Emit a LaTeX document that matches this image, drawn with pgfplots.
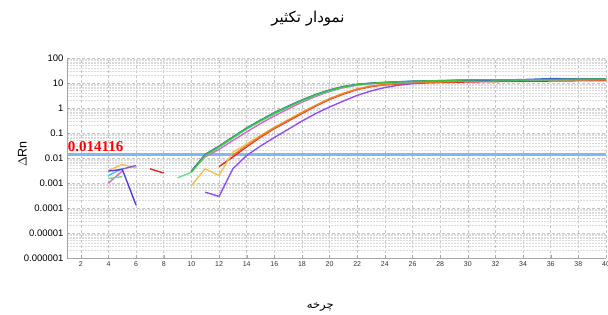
\documentclass[border=0pt]{standalone}
\usepackage{pgfplots}
\pgfplotsset{compat=1.18}
\usepackage{fontspec}
\setmainfont{Liberation Sans}
\newfontfamily\arabicfont[Script=Arabic]{DejaVu Sans}
\newfontfamily\thrfont{Liberation Serif}
\TeXXeTstate=1
\definecolor{cblue}{HTML}{3A5FD8}
\definecolor{cgreen}{HTML}{3CC03C}
\definecolor{clgreen}{HTML}{66E08A}
\definecolor{cpink}{HTML}{E060D0}
\definecolor{ccyan}{HTML}{40C8E8}
\definecolor{cred}{HTML}{E02828}
\definecolor{corange}{HTML}{F07828}
\definecolor{cyellow}{HTML}{F0C050}
\definecolor{cpurple}{HTML}{9050F0}
\definecolor{cviolet}{HTML}{5A3AE0}
\definecolor{cthr}{HTML}{80B8F0}
\begin{document}
\begin{tikzpicture}
\begin{axis}[
  at={(67pt,57pt)}, anchor=south west,
  scale only axis, width=539pt, height=200pt,
  ymode=log, xmin=1, xmax=40, ymin=1e-6, ymax=100,
  xtick={2,4,...,40},
  ytick={1e-6,1e-5,1e-4,1e-3,1e-2,1e-1,1,10,100},
  yticklabels={0.000001,0.00001,0.0001,0.001,0.01,0.1,1,10,100},
  minor ytick={2e-6,3e-6,4e-6,5e-6,6e-6,7e-6,8e-6,9e-6,
               2e-5,3e-5,4e-5,5e-5,6e-5,7e-5,8e-5,9e-5,
               2e-4,3e-4,4e-4,5e-4,6e-4,7e-4,8e-4,9e-4,
               2e-3,3e-3,4e-3,5e-3,6e-3,7e-3,8e-3,9e-3,
               2e-2,3e-2,4e-2,5e-2,6e-2,7e-2,8e-2,9e-2,
               0.2,0.3,0.4,0.5,0.6,0.7,0.8,0.9,
               2,3,4,5,6,7,8,9,
               20,30,40,50,60,70,80,90},
  grid=both,
  major grid style={gray!45, dash pattern=on 3pt off 2pt, line width=0.5pt},
  minor grid style={gray!28, dash pattern=on 2pt off 1pt, line width=0.5pt},
  axis line style={gray!70},
  axis x line*=bottom, axis y line*=left,
  tick style={gray!70},
  major tick length=3pt,
  minor tick length=0pt,
  xtick pos=bottom, ytick pos=left,
  /pgf/number format/assume math mode=true,
  xticklabel style={font=\fontsize{7}{8}\selectfont, text=black!80},
  yticklabel style={font=\fontsize{9.5}{10}\selectfont},
  ylabel={$\Delta$Rn},
  ylabel style={font=\fontsize{12.5}{13}\selectfont, at={(-0.083,0.52)}, anchor=center},
  xlabel={\arabicfont\beginR چرخه\endR},
  xlabel style={font=\fontsize{11.5}{12}\selectfont, at={(0.47,-0.245)}, anchor=center},
  title={\arabicfont\beginR نمودار تکثیر\endR},
  title style={font=\fontsize{15}{16}\selectfont, at={(0.447,1.165)}, anchor=center},
  every axis plot/.append style={line width=1.4pt, mark=none},
  clip=true,
]
% threshold
\addplot[cthr, line width=3.4pt] coordinates {(1,0.014116) (40,0.014116)};
% early fragments
\addplot[cpink] coordinates {(4,0.001) (5,0.003)};
\addplot[clgreen] coordinates {(4,0.0015) (5,0.0018)};
\addplot[ccyan] coordinates {(4,0.002) (5,0.0038)};
\addplot[cyellow] coordinates {(4,0.0032) (5,0.0055) (6,0.0040)};
\addplot[cviolet] coordinates {(4,0.0030) (5,0.0035) (6,0.00013)};
\addplot[cpurple] coordinates {(5,0.0036) (6,0.0050)};
\addplot[cred] coordinates {(7,0.0037) (8,0.0025)};
% late starters
\addplot[cpurple] coordinates {(11,0.00043) (12,0.00029) (13,0.0037) (14,0.0126) (15,0.030) (16,0.066) (17,0.14) (18,0.30) (19,0.60) (20,1.1) (21,1.9) (22,3.2) (23,4.8) (24,6.6) (25,8.2) (26,9.4) (27,10.3) (28,11.0) (29,11.6) (30,12.0) (31,12.3) (32,12.7) (33,12.9) (34,13.2) (35,13.4) (36,13.6) (37,13.7) (38,13.8) (39,13.9) (40,14.0)};
\addplot[cred] coordinates {(12,0.0045) (13,0.011) (14,0.028) (15,0.068) (16,0.15) (17,0.30) (18,0.60) (19,1.2) (20,2.2) (21,3.6) (22,5.5) (23,7.2) (24,8.4) (25,9.2) (26,9.8) (27,10.2) (28,10.5) (29,10.7) (30,11.0) (31,11.2) (32,11.4) (33,11.5) (34,11.7) (35,11.8) (36,12.0) (37,12.1) (38,12.3) (39,12.4) (40,12.5)};
\addplot[cyellow] coordinates {(10,0.0008) (11,0.0037) (12,0.0020) (13,0.017) (14,0.036) (15,0.080) (16,0.17) (17,0.34) (18,0.68) (19,1.3) (20,2.4) (21,3.9) (22,5.8) (23,7.6) (24,8.8) (25,9.8) (26,10.5) (27,11.0) (28,11.4) (29,11.7) (30,12.0) (31,12.3) (32,12.5) (33,12.8) (34,13.0) (35,13.2) (36,13.3) (37,13.5) (38,13.6) (39,13.8) (40,13.9)};
\addplot[corange] coordinates {(13,0.013) (14,0.031) (15,0.073) (16,0.16) (17,0.32) (18,0.64) (19,1.25) (20,2.3) (21,3.8) (22,5.7) (23,7.5) (24,8.7) (25,9.6) (26,10.2) (27,10.7) (28,11.1) (29,11.4) (30,11.7) (31,12.0) (32,12.2) (33,12.4) (34,12.6) (35,12.8) (36,12.9) (37,13.0) (38,13.2) (39,13.3) (40,13.4)};
% fast group
\addplot[cpink] coordinates {(10,0.0030) (11,0.011) (12,0.022) (13,0.050) (14,0.11) (15,0.24) (16,0.48) (17,0.92) (18,1.7) (19,2.9) (20,4.6) (21,6.5) (22,8.2) (23,9.4) (24,10.2) (25,10.9) (26,11.4) (27,11.8) (28,12.1) (29,12.4) (30,12.6) (31,12.8) (32,13.0) (33,13.2) (34,13.3) (35,13.5) (36,13.6) (37,13.8) (38,13.9) (39,14.0) (40,14.1)};
\addplot[ccyan] coordinates {(10,0.0029) (11,0.0125) (12,0.027) (13,0.064) (14,0.145) (15,0.30) (16,0.59) (17,1.1) (18,1.95) (19,3.2) (20,4.9) (21,6.9) (22,8.5) (23,9.6) (24,10.4) (25,11.0) (26,11.5) (27,11.9) (28,12.2) (29,12.5) (30,12.8) (31,13.0) (32,13.1) (33,13.2) (34,13.4) (35,13.6) (36,13.8) (37,13.9) (38,14.0) (39,14.1) (40,14.2)};
\addplot[clgreen] coordinates {(9,0.0016) (10,0.0027) (11,0.012) (12,0.027) (13,0.063) (14,0.145) (15,0.30) (16,0.58) (17,1.08) (18,1.95) (19,3.2) (20,4.9) (21,6.9) (22,8.5) (23,9.6) (24,10.3) (25,10.9) (26,11.4) (27,11.8) (28,12.2) (29,12.6) (30,12.9) (31,13.1) (32,13.2) (33,13.3) (34,13.4) (35,13.5) (36,13.6) (37,13.7) (38,13.9) (39,14.0) (40,14.2)};
\addplot[cblue] coordinates {(10,0.0030) (11,0.014) (12,0.030) (13,0.070) (14,0.16) (15,0.33) (16,0.65) (17,1.2) (18,2.1) (19,3.5) (20,5.3) (21,7.3) (22,8.9) (23,9.9) (24,10.6) (25,11.2) (26,11.8) (27,12.2) (28,12.4) (29,12.7) (30,12.9) (31,13.0) (32,13.2) (33,13.4) (34,13.7) (35,14.3) (36,15.0) (37,14.8) (38,14.5) (39,14.6) (40,14.8)};
\addplot[cgreen] coordinates {(10,0.0028) (11,0.013) (12,0.029) (13,0.068) (14,0.155) (15,0.32) (16,0.62) (17,1.15) (18,2.05) (19,3.4) (20,5.1) (21,7.1) (22,8.7) (23,9.8) (24,10.5) (25,11.1) (26,11.7) (27,12.1) (28,12.4) (29,12.9) (30,13.3) (31,13.5) (32,13.4) (33,13.3) (34,13.4) (35,13.5) (36,13.7) (37,13.9) (38,14.1) (39,14.3) (40,14.5)};
\node[anchor=base west, text=red, font=\thrfont\bfseries\fontsize{15}{15}\selectfont, inner sep=0pt] at (axis cs:1.05,0.014116) [yshift=2.8pt] {0.014116};
\end{axis}
\pgfresetboundingbox
\path[use as bounding box] (0pt,0pt) rectangle (608pt,315pt);
\end{tikzpicture}
\end{document}
